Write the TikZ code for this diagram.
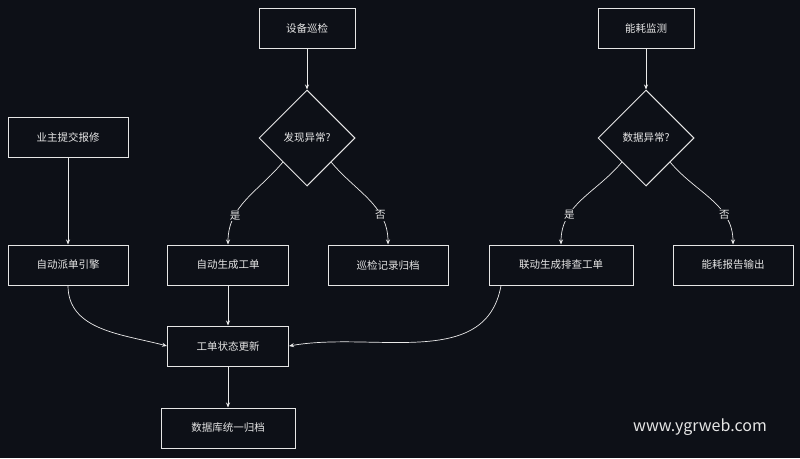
\documentclass[tikz,border=0pt]{standalone}
\usepackage{fontspec}
\setmainfont{Noto Sans CJK SC}
\usetikzlibrary{arrows.meta,shapes.geometric}
\definecolor{bg}{HTML}{0D1017}
\definecolor{ink}{HTML}{E6E6E6}
\tikzset{
  box/.style={draw=ink,line width=1pt,fill=bg,text=ink,font=\fontsize{10.5}{12}\selectfont,minimum height=40pt,inner sep=0pt},
  dia/.style={draw=ink,line width=1pt,diamond,aspect=1,text=ink,font=\fontsize{10.5}{12}\selectfont,minimum size=96pt,inner sep=0pt},
  arr/.style={draw=ink!85,line width=.7pt,-{Stealth[length=5pt,width=4pt]}},
  lbl/.style={fill=bg,text=ink,font=\fontsize{10.5}{12}\selectfont,inner sep=1pt}
}
\begin{document}
\begin{tikzpicture}[x=1pt,y=-1pt]
\fill[bg] (0,0) rectangle (800,458);
\useasboundingbox (0,0) rectangle (800,458);

% top row
\node[box,minimum width=96pt] (patrol) at (307,28) {设备巡检};
\node[box,minimum width=96pt] (energy) at (646,28) {能耗监测};
\node[dia] (found) at (307,138) {发现异常?};
\node[dia] (datax) at (646,138) {数据异常?};
\node[box,minimum width=120pt] (owner) at (68,137) {业主提交报修};

% middle row
\node[box,minimum width=120pt] (dispatch) at (68,265) {自动派单引擎};
\node[box,minimum width=121pt] (autowo) at (228,265) {自动生成工单};
\node[box,minimum width=120pt] (record) at (388,265) {巡检记录归档};
\node[box,minimum width=144pt] (linkwo) at (561,265) {联动生成排查工单};
\node[box,minimum width=120pt] (report) at (733,265) {能耗报告输出};

% bottom
\node[box,minimum width=121pt] (status) at (228,346) {工单状态更新};
\node[box,minimum width=134pt] (db) at (228,428) {数据库统一归档};

\node[text=ink,font=\fontsize{16}{18}\selectfont] (mark) at (700,427) {www.ygrweb.com};

% connectors
\draw[arr] (patrol) -- (found);
\draw[arr] (energy) -- (datax);
\draw[arr] (owner) -- (dispatch);
\draw[arr] (found.south west) to[out=-130,in=90] node[lbl,pos=.7] {是} (autowo.north);
\draw[arr] (found.south east) to[out=-50,in=90] node[lbl,pos=.7] {否} (record.north);
\draw[arr] (datax.south west) to[out=-130,in=90] node[lbl,pos=.7] {是} (linkwo.north);
\draw[arr] (datax.south east) to[out=-50,in=90] node[lbl,pos=.7] {否} (report.north);
\draw[arr] (dispatch.south) to[out=-90,in=165] (status.west);
\draw[arr] (autowo) -- (status);
\draw[arr] ([xshift=-60pt]linkwo.south) to[out=-100,in=10] (status.east);
\draw[arr] (status) -- (db);
\end{tikzpicture}
\end{document}
